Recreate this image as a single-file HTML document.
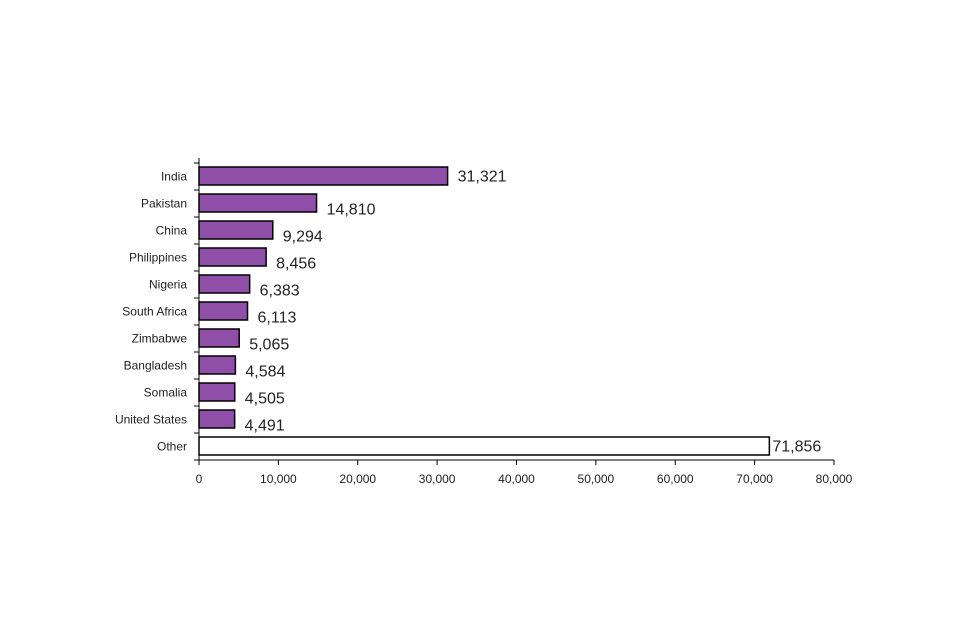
<!DOCTYPE html>
<html><head><meta charset="utf-8"><style>body{margin:0;background:#fff}svg{display:block;font-family:"Liberation Sans",Arial,sans-serif}</style></head>
<body>
<svg id="chart" width="960" height="640" xmlns="http://www.w3.org/2000/svg"></svg>
<script>
const categories=["India","Pakistan","China","Philippines","Nigeria","South Africa","Zimbabwe","Bangladesh","Somalia","United States","Other"];
const values=[31321,14810,9294,8456,6383,6113,5065,4584,4505,4491,71856];
const valueLabels=["31,321","14,810","9,294","8,456","6,383","6,113","5,065","4,584","4,505","4,491","71,856"];
const ticks=[0,10000,20000,30000,40000,50000,60000,70000,80000];
const tickLabels=["0","10,000","20,000","30,000","40,000","50,000","60,000","70,000","80,000"];
const svg=document.getElementById('chart');const NS="http://www.w3.org/2000/svg";
const x0=199,x1=834,xMax=80000,yTop=163,band=27;
const X=v=>x0+(x1-x0)*v/xMax;
const Y=i=>yTop+band*i;
function mk(t,a,txt){const e=document.createElementNS(NS,t);for(const k in a)e.setAttribute(k,a[k]);if(txt!==undefined)e.textContent=txt;svg.appendChild(e);return e;}
categories.forEach((c,i)=>{
 const y=Y(i)+4,h=18;
 const r=mk('rect',{x:x0,y:y,width:X(values[i])-x0,height:h,fill:i===categories.length-1?'#fff':'#8f4fa8',stroke:'#000','stroke-width':1.5});
 
 
 const l=mk('text',{x:187,y:Y(i)+band/2+4,'text-anchor':'end','font-size':12,fill:'#222'},c);
 
 
 const off=(i===0||i===categories.length-1)?5:11;
 const v=mk('text',{x:X(values[i])+(i===categories.length-1?3:10),y:Y(i)+band/2+off,'font-size':16,fill:'#222'},valueLabels[i]);
 
 
});
const ya=mk('line',{x1:x0,y1:158,x2:x0,y2:Y(categories.length),stroke:'#000','stroke-width':1});


for(let i=0;i<=categories.length;i++){const t=mk('line',{x1:x0-5,y1:Y(i),x2:x0,y2:Y(i),stroke:'#000'});}
const yb=Y(categories.length);
const xa=mk('line',{x1:x0,y1:yb,x2:x1,y2:yb,stroke:'#000','stroke-width':1});


ticks.forEach((t,i)=>{
 const tk=mk('line',{x1:X(t),y1:yb,x2:X(t),y2:yb+5,stroke:'#000'});
 
 
 const tl=mk('text',{x:X(t),y:yb+23,'text-anchor':'middle','font-size':12,fill:'#222'},tickLabels[i]);
 
 
});
</script>
</body></html>
